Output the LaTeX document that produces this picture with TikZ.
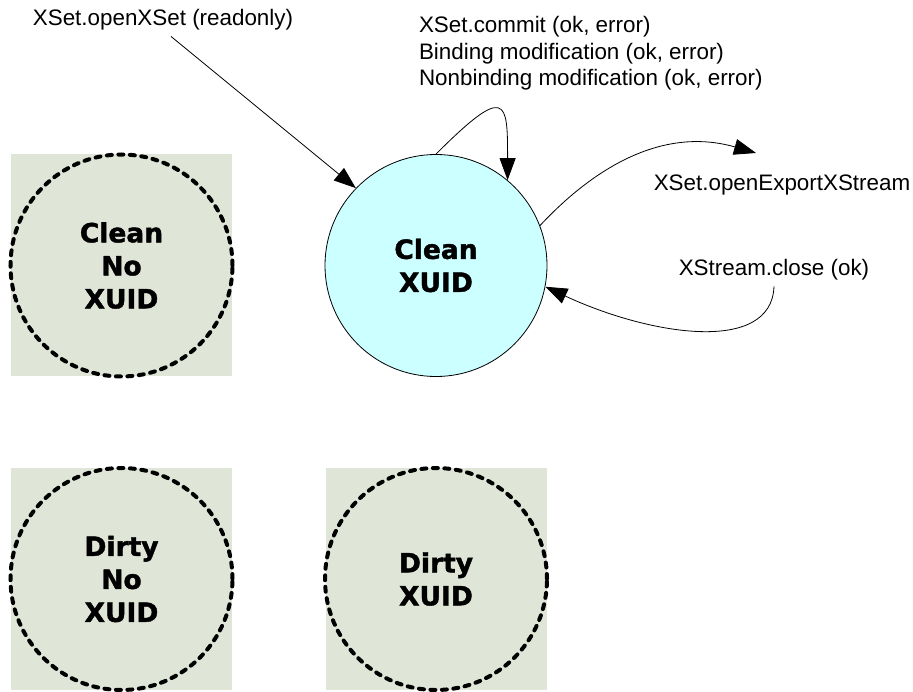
\documentclass[tikz,border=0pt]{standalone}
\usepackage{fontspec}
\setmainfont{Liberation Sans}
\newfontfamily\statefont{DejaVu Sans}[BoldFeatures={FakeBold=1.5}]
\usetikzlibrary{arrows.meta}
\definecolor{boxgray}{HTML}{DFE6D7}
\definecolor{statecyan}{HTML}{CCFFFF}

\begin{document}
\begin{tikzpicture}[x=1pt,y=1pt,
    state/.style={draw,circle,minimum size=222pt,inner sep=0pt,fill=statecyan,line width=0.8pt,align=center,font=\statefont\bfseries\fontsize{26.5}{33}\selectfont},
    ghost/.style={state,fill=none,line width=4pt,dash pattern=on 5pt off 6.5pt,line cap=round},
    greybox/.style={rectangle,fill=boxgray,minimum width=221pt,minimum height=222pt,inner sep=0pt},
    lbl/.style={inner sep=0pt,outer sep=6pt,align=left,font=\fontsize{22.4}{26.5}\selectfont},
    trans/.style={line width=0.8pt,-{Triangle[length=22pt,width=16pt]}}]

    \useasboundingbox (0, 0) rectangle (913, 691);

    \node[greybox] (b1) at (121.5, 425.5) {};
    \node[ghost] (cnx) at (b1) {Clean\\No\\XUID};

    \node[greybox] (b2) at (121.5, 112) {};
    \node[ghost] (dnx) at (b2) {Dirty\\No\\XUID};

    \node[greybox] (b3) at (436, 112) {};
    \node[ghost] (dx) at (b3) {Dirty\\XUID};

    \node[state] (cx) at (436, 425.5) {Clean\\XUID};

    \node[lbl] (lblopen) at (163, 671) {XSet.openXSet (readonly)};
    \node[lbl,anchor=west] (lblcommit) at (413, 637.5) {XSet.commit (ok, error)\\Binding modification (ok, error)\\Nonbinding modification (ok, error)};
    \node[lbl] (lblexport) at (782, 506) {XSet.openExportXStream};
    \node[lbl] (lblclose) at (774, 421) {XStream.close (ok)};
    \coordinate (exptip) at (756, 538);

    \draw[trans] ([xshift=8pt]lblopen.south) -- (cx.136);
    \draw[trans] (cx.90) to[out=45, in=90, out distance=100pt, in distance=80pt] (cx.50);
    \draw[trans] (cx.21) to[out=47, in=164, out distance=74pt, in distance=100pt] (exptip);
    \draw[trans] (lblclose.south) to[out=-92, in=-25, out distance=68pt, in distance=116pt] (cx.-11);

  \end{tikzpicture}
\end{document}
